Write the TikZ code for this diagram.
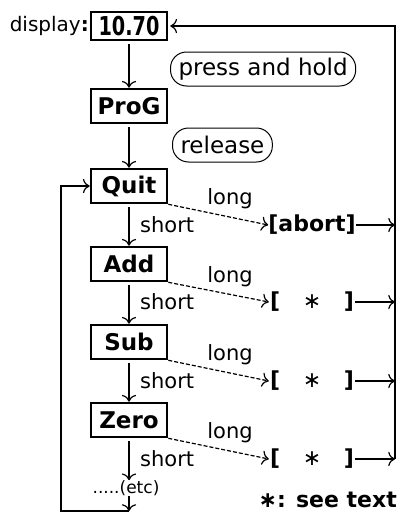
\documentclass[tikz,border=0pt]{standalone}
\usepackage{fontspec}
\setmainfont{DejaVu Sans}
\usetikzlibrary{arrows.meta}
\newcommand{\starslot}{\makebox[84pt][s]{[\hfil{\mdseries ∗}\hfil]}}
\tikzset{
  keybox/.style={draw,line width=2.6pt,minimum width=76pt,minimum height=34pt,inner sep=0pt,font=\bfseries\fontsize{23}{23}\selectfont},
  pill/.style={draw,line width=1pt,rounded corners=16pt,minimum height=34pt,inner xsep=8pt,inner ysep=0pt,font=\fontsize{23}{23}\selectfont},
  txt/.style={inner sep=0pt,font=\fontsize{21}{21}\selectfont},
  target/.style={inner sep=0pt,minimum width=86pt,font=\bfseries\fontsize{22}{22}\selectfont},
  flow/.style={line width=1.2pt,-{>[scale=1.6]}},
  longflow/.style={flow,dash pattern=on 4pt off 2pt},
}
\begin{document}
\begin{tikzpicture}[x=1pt,y=-1pt]
	\useasboundingbox (0,0) rectangle (403,514);
	% keys
	\node[keybox,minimum height=28pt,font=\bfseries\fontsize{26}{26}\selectfont] (disp) at (129,26) {\scalebox{0.74}[1]{10.70}};
	\node[keybox] (prog) at (129,106) {ProG};
	\node[keybox] (quit) at (129,186) {Quit};
	\node[keybox] (add) at (129,264) {Add};
	\node[keybox] (sub) at (129,342) {Sub};
	\node[keybox] (zero) at (129,420) {Zero};
	\node[txt,anchor=east,font=\fontsize{20}{20}\selectfont] (dlabel) at (89,26) {display\textbf{:}};
	\node[pill,anchor=west] (hold) at (170,69) {press and hold};
	\node[pill,anchor=west] (rel) at (172,145) {release};
	% long press targets
	\node[target] (abort) at (312,225) {[abort]};
	\node[target] (tadd) at (312,302) {\starslot};
	\node[target] (tsub) at (312,381) {\starslot};
	\node[target] (tzero) at (312,459) {\starslot};
	\node[target,minimum width=0pt,anchor=east] (note) at (397,500) {∗: see text};
	% labels
	\node[txt] (l1) at (230,199) {long};
	\node[txt] (l2) at (230,277) {long};
	\node[txt] (l3) at (230,355) {long};
	\node[txt] (l4) at (230,433) {long};
	\node[txt,anchor=west] (s1) at (140,225) {short};
	\node[txt,anchor=west] (s2) at (140,302) {short};
	\node[txt,anchor=west] (s3) at (140,381) {short};
	\node[txt,anchor=west] (s4) at (140,459) {short};
	\node[txt,font=\fontsize{17}{17}\selectfont] (etc) at (126,488) {.....(etc)};
	% down arrows
	\draw[flow,shorten <=3pt] (disp) -- (prog);
	\draw[flow,shorten <=3pt] (prog) -- (quit);
	\draw[flow,shorten <=3pt] (quit) -- (add);
	\draw[flow,shorten <=3pt] (add) -- (sub);
	\draw[flow,shorten <=3pt] (sub) -- (zero);
	\draw[flow,shorten <=3pt] (zero.south) -- (etc.north -| zero.south);
	% long arrows
	\draw[longflow] (quit.south east) -- (abort.west);
	\draw[longflow] (add.south east) -- (tadd.west);
	\draw[longflow] (sub.south east) -- (tsub.west);
	\draw[longflow] (zero.south east) -- (tzero.west);
	% back to display
	\coordinate (rtop) at (395,26);
	\coordinate (rbot) at (395,459);
	\draw[flow] (abort.east) -- (abort.east -| rtop);
	\draw[flow] (tadd.east) -- (tadd.east -| rtop);
	\draw[flow] (tsub.east) -- (tsub.east -| rtop);
	\draw[flow] (tzero.east) -- (rbot);
	\draw[flow,shorten >=2pt] (rbot) -- (rtop) -- (disp.east);
	% back to quit
	\coordinate (lbot) at (129,511);
	\coordinate (lcorner) at (61,511);
	\draw[flow] (etc.south -| lbot) -- (lbot);
	\draw[flow] (lbot) -- (lcorner) |- (quit.west);
\end{tikzpicture}
\end{document}
